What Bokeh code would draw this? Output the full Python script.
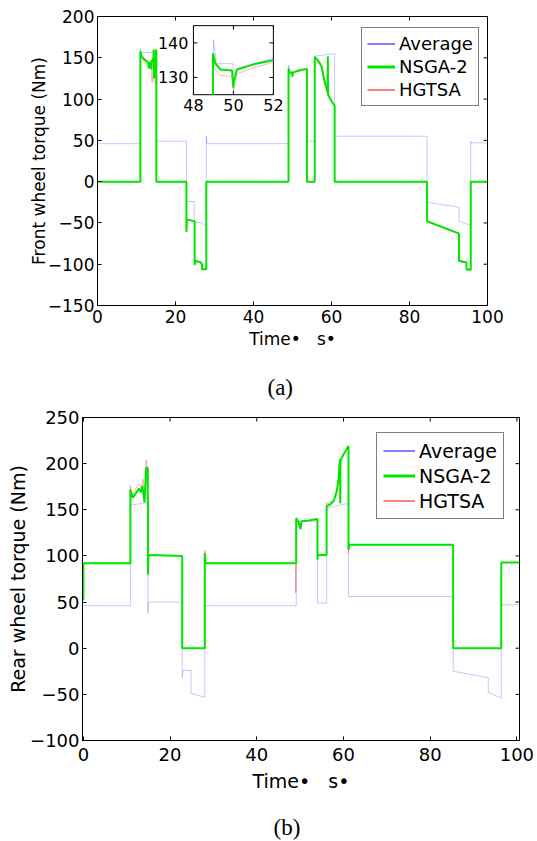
from math import pi
from bokeh.plotting import figure
from bokeh.models import Range1d, FixedTicker, Legend, LegendItem
from bokeh.core.properties import value
from bokeh.embed import file_html
from bokeh.resources import INLINE

FONT = "DejaVu Sans"
SERIF = "Liberation Serif"
NAN = float("nan")

# ---------------- data: front wheel torque (a) ----------------
x_ticks = [0, 20, 40, 60, 80, 100]
front_y_ticks = [-150, -100, -50, 0, 50, 100, 150, 200]
rear_y_ticks = [-100, -50, 0, 50, 100, 150, 200, 250]

front_t_avg = [0, 11.0, 11.0, 11.1, 15.1, 15.1, 15.2, 22.8, 22.8, 23.0, 24.8, 24.8, 26.8, 27.7, 27.9, 27.9, 28.0,
               48.98, 48.98, 49.2, 49.95, 50.0, 50.2, 51.0, 52.0, 53.7, 53.7, 55.7, 55.7, 60.8, 60.8,
               84.5, 84.5, 92.7, 92.7, 95.7, 95.7, 95.8, 100]
front_v_avg = [46, 46, 161, 156, 157, 52, 49, 49, -25, -24, -24, -49, -50, -53, -53, 55, 46,
               46, 141, 134, 134, 129, 132, 134, 135.5, 136, 49, 49, 152, 155, 55,
               55, -25, -31, -48, -53, 49, 47, 47]

front_t_nsga = [0, 11.0, 11.0, 11.3, 12.0, 12.6, 13.0, 13.2, 13.3, 13.6, 13.8, 13.9, 14.2, 14.35, 14.4, 14.5, 14.7,
                14.9, 15.0, 15.1, 15.1,
                22.8, 22.8, 22.95, 23.1, 24.9, 24.9, 25.2, 26.4, 26.8, 26.8, 27.9, 27.9,
                48.98, 48.98, 49.1, 49.35, 49.93, 50.0, 50.03, 50.18, 50.6, 51.0, 52.0, 53.0, 53.7, 53.7,
                55.7, 55.7, 56.3, 57.2, 57.6, 58.0, 58.5, 58.9, 59.0, 59.05, 59.1, 59.6, 60.2, 60.8, 60.8,
                84.5, 84.5, 92.7, 92.7, 94.6, 94.6, 95.7, 95.7, 100]
front_v_nsga = [0, 0, 158, 152, 148, 146, 143, 137, 145, 143, 136, 146, 148, 150, 160, 125, 130,
                150, 160, 158, 0,
                0, -61, -47, -46, -48, -101, -96, -97.5, -100, -106, -106, 0,
                0, 137, 134, 132.3, 132, 127, 129, 132.3, 133, 133.8, 135, 136, 136.5, 0,
                0, 151, 148, 142, 137, 126, 117, 110, 108, 152, 106, 101, 96, 92, 0,
                0, -48, -63, -96, -98, -106, -107, 0, 0]

front_t_hgtsa = [0, 11.0, 11.0, 11.3, 12.0, 12.6, 13.0, 13.3, 13.8, 14.0, 14.35, 14.4, 14.5, 14.9, 15.0, 15.1, 15.1,
                 22.8, 22.8, 22.95, 23.1, 24.9, 24.9, 25.2, 26.4, 26.8, 26.8, 27.9, 27.9,
                 48.98, 48.98, 49.1, 49.35, 49.93, 50.0, 50.03, 50.18, 50.6, 51.0, 52.0, 53.0, 53.7, 53.7,
                 55.7, 55.7, 56.3, 57.2, 57.6, 58.0, 58.5, 58.9, 59.0, 59.05, 59.1, 59.6, 60.2, 60.8, 60.8,
                 84.5, 84.5, 92.7, 92.7, 94.6, 94.6, 95.7, 95.7, 100]
front_v_hgtsa = [0, 0, 157, 150, 145, 140, 138, 140, 135, 120, 148, 158, 122, 118, 158, 156, 0,
                 0, -60, -47, -46, -48, -100, -96, -97, -100, -105, -106, 0,
                 0, 136, 132, 130.6, 130.3, 126.3, 128, 131, 132, 132.8, 134.4, 135.5, 136, 0,
                 0, 150, 146, 140, 135, 122, 114, 108, 106, 150, 104, 100, 95, 91, 0,
                 0, -48, -62, -95, -97, -105, -106, 0, 0]

# inset (zoom of 48-52 s)
inset_x_range = (48, 52)
inset_y_range = (125, 145)
inset_x_ticks = [48, 50, 52]
inset_y_ticks = [130, 140]
inset_t_avg = [49.0, 49.0, 49.15, 49.97, 50.0, 50.15, 50.5, 51.0, 51.5, 52.0]
inset_v_avg = [125, 141, 134, 134, 130.5, 132.4, 133.2, 134.0, 134.8, 135.5]
inset_t_nsga = [48.98, 48.98, 49.1, 49.35, 49.93, 50.0, 50.03, 50.18, 50.6, 51.0, 51.5, 52.0]
inset_v_nsga = [125, 137, 134, 132.3, 132, 127, 129, 132.3, 133, 133.8, 134.4, 135]
inset_t_hgtsa = [48.98, 48.98, 49.1, 49.35, 49.93, 50.0, 50.03, 50.18, 50.6, 51.0, 51.5, 52.0]
inset_v_hgtsa = [125, 136, 132, 130.6, 130.3, 126.3, 128, 131, 132, 132.8, 133.6, 134.4]

# ---------------- data: rear wheel torque (b) ----------------
rear_t_avg = [0, 10.85, 10.85, 11.0, 14.9, 14.9, 15.0, 22.8, 22.8, 23.0, 24.85, 24.85, 28.0, 28.0,
              49.1, 49.1, 54.0, 54.0, 56.1, 56.1, 61.15, 61.15, 85.3, 85.3, 93.4, 93.4, 96.4, 96.4, 100.6]
rear_v_avg = [46, 46, 160, 155, 158, 38, 50, 50, -32, -24, -24, -49, -53, 46,
              46, 137, 138, 49, 49, 152, 157, 56, 56, -25, -32, -48, -54, 47, 47]

rear_t_nsga = [0, 0, 10.85, 10.85, 11.4, 12.0, 12.8, 13.3, 13.6, 14.1, 14.5, 14.85, 14.85, 14.9, 14.9, 15.0, 15.3,
               22.8, 22.8, 28.0, 28.0, 28.2,
               49.1, 49.1, 49.6, 50.1, 50.3, 52.0, 53.9, 54.0, 54.0, 54.1,
               56.1, 56.1, 57.0, 57.8, 58.5, 58.9, 59.1, 59.2, 59.25, 59.3, 59.9, 60.5, 61.15, 61.15, 61.4,
               85.3, 85.3, 96.4, 96.4, 100.6]
rear_v_nsga = [52, 92, 92, 172, 163, 167, 173, 169, 176, 158, 196, 195, 160, 160, 80, 100, 101,
               100, 0, 0, 103, 92,
               92, 141, 137, 129, 137.5, 138.5, 140, 140, 96, 101,
               101, 154, 156, 160, 171, 185, 200, 205, 157, 203, 209, 214, 219, 107, 112,
               112, 0, 0, 93, 93]

rear_t_hgtsa = [0, 0, 10.85, 10.85, 11.0, 11.4, 12.0, 12.8, 13.3, 13.8, 14.1, 14.5, 14.6, 14.85, 14.85, 14.9, 14.9,
                15.0, 15.3, 22.8, 22.8, 28.0, 28.0, 28.2,
                48.9, 49.0, 49.1, 49.1, 49.6, 50.1, 50.3, 52.0, 53.9, 54.0, 54.0, 54.1,
                56.1, 56.1, 56.3, 57.0, 57.8, 58.5, 58.9, 59.1, 59.2, 59.25, 59.3, 59.9, 60.5, 61.15, 61.15, 61.4,
                85.3, 85.3, 96.4, 96.4, 100.6]
rear_v_hgtsa = [52, 92, 92, 176, 168, 165, 172, 178, 175, 183, 160, 204, 198, 197, 160, 160, 82,
                100, 101, 100, 0, 0, 106, 92,
                92, 60, 92, 141, 137, 130, 137, 138.5, 140, 140, 96, 101,
                101, 158, 157, 158, 162, 172, 186, 201, 205, 158, 203, 209, 214, 219, 103, 112,
                112, 0, 0, 93, 93]

series_names = ["Average", "NSGA-2", "HGTSA"]
captions = ["(a)", "(b)"]

AVG_C, NSGA_C, HG_C = "#0000ff", "#00e600", "#ff0000"


def style_axis(ax, size, ticks, standoff):
    ax.ticker = FixedTicker(ticks=ticks)
    ax.major_tick_in = 4
    ax.major_tick_out = 0
    ax.minor_tick_line_color = None
    ax.axis_line_color = "black"
    ax.major_tick_line_color = "black"
    ax.major_label_text_font = FONT
    ax.major_label_text_color = "black"
    ax.major_label_text_font_size = size
    ax.major_label_standoff = standoff
    ax.axis_label_text_font = FONT
    ax.axis_label_text_font_style = "normal"
    ax.axis_label_text_color = "black"


def make_fig(height, xr, yr, ml, mr, mt, mb, yticks, tick_size, lab_size, ylabel,
             x_std, x_lab_std, y_std, y_lab_std):
    p = figure(width=537, height=height, x_range=Range1d(*xr), y_range=Range1d(*yr),
               output_backend="svg", toolbar_location=None,
               min_border_left=ml, min_border_right=mr, min_border_top=mt, min_border_bottom=mb,
               background_fill_color="white", border_fill_color="white")
    p.grid.visible = False
    p.outline_line_color = "black"
    p.outline_line_width = 1
    xa = p.xaxis[0]
    ya = p.yaxis[0]
    style_axis(xa, tick_size, x_ticks, x_std)
    style_axis(ya, tick_size, yticks, y_std)
    xa.axis_label = "Time•\u00a0\u00a0\u00a0s•"
    xa.axis_label_text_font_size = lab_size
    xa.axis_label_standoff = x_lab_std
    ya.axis_label = ylabel
    ya.axis_label_text_font_size = lab_size
    ya.axis_label_standoff = y_lab_std
    # mirrored inward ticks on the top and right edges (MATLAB box style)
    p.ray(x=x_ticks, y=[yr[1]] * len(x_ticks), length=4, length_units="screen",
          angle=-pi / 2, line_color="black")
    p.ray(x=[xr[1]] * len(yticks), y=yticks, length=4, length_units="screen",
          angle=pi, line_color="black")
    return p


def add_series(p, t_avg, v_avg, t_n, v_n, t_h, v_h):
    p.line(t_avg, v_avg, line_color=AVG_C, line_alpha=0.22, line_width=1)
    p.line(t_h, v_h, line_color=HG_C, line_alpha=0.3, line_width=1)
    p.line(t_n, v_n, line_color=NSGA_C, line_width=2)


def add_legend(p, loc, font_size, glyph_w, row_h, pad):
    r1 = p.line([NAN], [NAN], line_color=AVG_C, line_width=1)
    r2 = p.line([NAN], [NAN], line_color=NSGA_C, line_width=3)
    r3 = p.line([NAN], [NAN], line_color=HG_C, line_width=1)
    leg = Legend(items=[LegendItem(label=series_names[0], renderers=[r1]),
                        LegendItem(label=series_names[1], renderers=[r2]),
                        LegendItem(label=series_names[2], renderers=[r3])],
                 location=loc, margin=0, padding=pad, spacing=2,
                 glyph_width=glyph_w, glyph_height=row_h, label_height=row_h,
                 label_standoff=4, label_text_font=FONT, label_text_font_size=font_size,
                 label_text_color="black", border_line_color="black", border_line_width=1,
                 background_fill_color="white", background_fill_alpha=1)
    p.add_layout(leg)


def caption_fig(text, height, sx, sy):
    # a strip whose frame fills the whole strip: one data unit = one pixel
    c = figure(width=537, height=height, x_range=Range1d(0, 537), y_range=Range1d(height, 0),
               output_backend="svg", toolbar_location=None, x_axis_location=None,
               y_axis_location=None, min_border=0, outline_line_color=None,
               background_fill_color="white", border_fill_color="white")
    c.grid.visible = False
    c.text(x=[sx], y=[sy], text=[text], text_font=value(SERIF), text_font_size="23px",
           text_color="black", text_align="left", text_baseline="middle")
    return c


# ---------------- figure (a) ----------------
p1 = make_fig(370, (0, 100), (-150, 200), 97, 50, 16, 65, front_y_ticks, "17px", "17px",
              "Front wheel torque (Nm)", 4, 3, 3, -4)
add_series(p1, front_t_avg, front_v_avg, front_t_nsga, front_v_nsga, front_t_hgtsa, front_v_hgtsa)

ins = p1.subplot(x_source=Range1d(*inset_x_range), y_source=Range1d(*inset_y_range),
                 x_target=Range1d(24.6, 45.1), y_target=Range1d(105.3, 188.9))
ins.quad(left=[inset_x_range[0]], right=[inset_x_range[1]], bottom=[inset_y_range[0]],
         top=[inset_y_range[1]], fill_color="white", line_color="black", line_width=1)
ins.line(inset_t_avg, inset_v_avg, line_color=AVG_C, line_alpha=0.22, line_width=1)
ins.line(inset_t_hgtsa, inset_v_hgtsa, line_color=HG_C, line_alpha=0.3, line_width=1)
ins.line(inset_t_nsga, inset_v_nsga, line_color=NSGA_C, line_width=2)
ins.ray(x=[inset_x_range[0]] * len(inset_y_ticks), y=inset_y_ticks, length=4, length_units="screen",
        angle=0, line_color="black")
ins.ray(x=[inset_x_range[1]] * len(inset_y_ticks), y=inset_y_ticks, length=4, length_units="screen",
        angle=pi, line_color="black")
ins.ray(x=inset_x_ticks, y=[inset_y_range[0]] * len(inset_x_ticks), length=4, length_units="screen",
        angle=pi / 2, line_color="black")
ins.ray(x=inset_x_ticks, y=[inset_y_range[1]] * len(inset_x_ticks), length=4, length_units="screen",
        angle=-pi / 2, line_color="black")
ins.text(x=[inset_x_range[0]] * len(inset_y_ticks), y=inset_y_ticks, text=[str(v) for v in inset_y_ticks],
         x_offset=-5, text_align="right", text_baseline="middle", text_font=value(FONT),
         text_font_size="16px", text_color="black")
ins.text(x=inset_x_ticks, y=[inset_y_range[0]] * len(inset_x_ticks), text=[str(v) for v in inset_x_ticks],
         y_offset=4, text_align="center", text_baseline="top", text_font=value(FONT),
         text_font_size="16px", text_color="black")

add_legend(p1, (264, 199), "18px", 28, 21, 5)
cap_a = caption_fig(captions[0], 30, 267, 16.7)

# ---------------- figure (b) ----------------
p2 = make_fig(411, (-0.2, 100.6), (-100, 250), 82, 18, 17, 71, rear_y_ticks, "18px", "19px",
              "Rear wheel torque (Nm)", 7, 6, 3, -2)
add_series(p2, rear_t_avg, rear_v_avg, rear_t_nsga, rear_v_nsga, rear_t_hgtsa, rear_v_hgtsa)
add_legend(p2, (294, 221), "19px", 32, 23, 6)
cap_b = caption_fig(captions[1], 30, 273, 15.5)

open("out.html", "w").write(file_html([p1, cap_a, p2, cap_b], INLINE))
